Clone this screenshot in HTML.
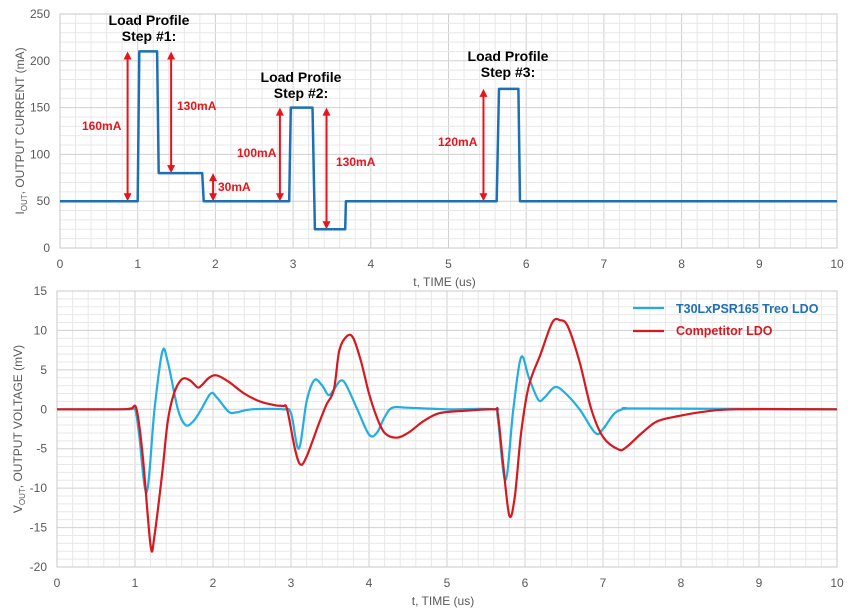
<!DOCTYPE html>
<html><head><meta charset="utf-8"><style>
html,body{margin:0;padding:0;background:#fff;}
svg{display:block;font-family:"Liberation Sans",Arial,sans-serif;}
</style></head><body>
<svg id="c" width="850" height="615" viewBox="0 0 850 615"></svg>
<script>
// ---- data ----
const currentTimes = [0, 1.0, 1.02, 1.25, 1.27, 1.83, 1.85, 2.95, 2.97, 3.25, 3.28, 3.67, 3.68, 5.62, 5.65, 5.9, 5.92, 10];
const currentValues = [50, 50, 210, 210, 80, 80, 50, 50, 150, 150, 20, 20, 50, 50, 170, 170, 50, 50];
const treoTimes = [0,0.9,1.0,1.05,1.15,1.25,1.35,1.42,1.55,1.65,1.75,1.85,1.97,2.05,2.2,2.3,2.5,2.9,3.0,3.1,3.2,3.3,3.4,3.48,3.55,3.63,3.7,3.85,4.0,4.1,4.2,4.3,4.5,5,5.6,5.65,5.75,5.85,5.95,6.05,6.17,6.25,6.38,6.5,6.7,6.9,7.0,7.15,7.3,7.5,10];
const treoValues = [0,0,0,-3,-10.5,0,7.3,6,0,-2,-1.5,0,2,1.5,-0.3,-0.4,0,0,-0.5,-5,1,3.7,3,1.8,2.5,3.6,3.2,0,-3.2,-3,-1,0.2,0.2,0,0,-1,-9,0,6.6,4,1.2,1.5,2.8,2.2,0,-3,-2.5,-0.5,0.1,0.1,0];
const compTimes = [0,0.8,0.95,1.02,1.1,1.2,1.25,1.35,1.42,1.5,1.6,1.7,1.8,1.85,1.95,2.05,2.2,2.4,2.6,2.8,2.9,2.95,3.05,3.12,3.2,3.35,3.45,3.55,3.62,3.72,3.8,3.9,4.0,4.1,4.2,4.35,4.5,4.7,4.9,5.2,5.6,5.65,5.72,5.8,5.87,5.95,6.05,6.2,6.35,6.45,6.55,6.7,6.85,7.0,7.2,7.3,7.5,7.7,8,8.3,8.7,10];
const compValues = [0,0,0.1,0,-6,-17.3,-16,-8,-1.5,2,3.8,3.7,2.8,3,4,4.3,3.5,2,1,0.5,0.4,0,-5,-7,-6,-2,0.5,2.5,7.5,9.3,9,6,2,-1,-3,-3.6,-3,-1.5,-0.5,-0.2,0,-0.5,-7,-13.5,-11,-3,3,7,11,11.3,10.5,6,0,-3.5,-5.1,-4.8,-3,-1.5,-0.8,-0.3,0,0];
const xTicks = [0,1,2,3,4,5,6,7,8,9,10];
const topYTicks = [0,50,100,150,200,250];
const botYTicks = [-20,-15,-10,-5,0,5,10,15];

const svg = document.getElementById('c');
const NS = 'http://www.w3.org/2000/svg';
function mk(tag, attrs, parent){const e=document.createElementNS(NS,tag);for(const k in attrs)e.setAttribute(k,attrs[k]);(parent||svg).appendChild(e);return e;}

const topP = {x0:60,x1:837,y0:248,y1:14,vmin:0,vmax:250};
const botP = {x0:57,x1:837,y0:567,y1:291,vmin:-20,vmax:15};
function X(p,t){return p.x0+(p.x1-p.x0)*t/10;}
function Y(p,v){return p.y0-(p.y0-p.y1)*(v-p.vmin)/(p.vmax-p.vmin);}

function grid(p, minorStep, majorStep, name){
  const g = mk('g',{});
  
  
  for(let t=0;t<=10.001;t+=0.2){const major=Math.abs(t-Math.round(t))<1e-6;
    mk('line',{x1:X(p,t),x2:X(p,t),y1:p.y1,y2:p.y0,stroke:major?'#d0d0d0':'#e8e8e8','stroke-width':1},g);}
  for(let v=p.vmin;v<=p.vmax+1e-6;v+=minorStep){const major=Math.abs(v/majorStep-Math.round(v/majorStep))<1e-6;
    mk('line',{x1:p.x0,x2:p.x1,y1:Y(p,v),y2:Y(p,v),stroke:major?'#d0d0d0':'#e8e8e8','stroke-width':1},g);}
  mk('rect',{x:p.x0,y:p.y1,width:p.x1-p.x0,height:p.y0-p.y1,fill:'none',stroke:'#c8c8c8'},g);
}
function axes(p, yTicks, name, ylab, ysub, ylabRest, ylabX){
  xTicks.forEach(t=>{const e=mk('text',{x:X(p,t),y:p.y0+20,'text-anchor':'middle','font-size':12,fill:'#595959'});e.textContent=t;
    });
  yTicks.forEach(v=>{const e=mk('text',{x:p.x0-10,y:Y(p,v)+4,'text-anchor':'end','font-size':12,fill:'#595959'});e.textContent=v;
    });
  const xt=mk('text',{x:(p.x0+p.x1)/2-4,y:p.y0+38,'text-anchor':'middle','font-size':12,fill:'#595959'});xt.textContent='t, TIME (us)';
  
  const cy=(p.y0+p.y1)/2;
  const yt=mk('text',{x:0,y:0,'text-anchor':'middle','font-size':12,fill:'#595959',transform:`translate(${ylabX},${cy}) rotate(-90)`});
  
  const a=mk('tspan',{},yt);a.textContent=ylab;
  const b=mk('tspan',{'font-size':8,dy:3},yt);b.textContent=ysub;
  const c=mk('tspan',{dy:-3},yt);c.textContent=ylabRest;
}
function series(p, ts, vs, color, name, w, smooth){
  const pts=ts.map((t,i)=>[X(p,t),Y(p,vs[i])]);
  let d='M'+pts[0][0].toFixed(1)+','+pts[0][1].toFixed(1);
  for(let i=1;i<pts.length;i++){
    if(!smooth){d+=' L'+pts[i][0].toFixed(1)+','+pts[i][1].toFixed(1);continue;}
    const p0=pts[Math.max(0,i-2)],p1=pts[i-1],p2=pts[i],p3=pts[Math.min(pts.length-1,i+1)];
    const c1x=p1[0]+(p2[0]-p0[0])/6,c1y=p1[1]+(p2[1]-p0[1])/6;
    const c2x=p2[0]-(p3[0]-p1[0])/6,c2y=p2[1]-(p3[1]-p1[1])/6;
    d+=` C${c1x.toFixed(1)},${c1y.toFixed(1)} ${c2x.toFixed(1)},${c2y.toFixed(1)} ${p2[0].toFixed(1)},${p2[1].toFixed(1)}`;
  }
  const e=mk('path',{d:d,fill:'none',stroke:color,'stroke-width':w,'stroke-linejoin':'round'});
  
}

grid(topP,10,50,'top');
grid(botP,1,5,'bottom');
axes(topP, topYTicks,'top','I','OUT',', OUTPUT CURRENT (mA)',24);
axes(botP, botYTicks,'bottom','V','OUT',', OUTPUT VOLTAGE (mV)',22);

const red='#e8141c';
function arrow(t, v1, v2, name){
  const x=X(topP,t), ya=Y(topP,v1), yb=Y(topP,v2);
  const g=mk('g',{});
  mk('line',{x1:x,x2:x,y1:ya+6,y2:yb-6,stroke:red,'stroke-width':2},g);
  mk('path',{d:`M${x-4},${ya+8} L${x},${ya} L${x+4},${ya+8}Z`,fill:red},g);
  mk('path',{d:`M${x-4},${yb-8} L${x},${yb} L${x+4},${yb-8}Z`,fill:red},g);
}
arrow(0.87,210,50,'arrow-160ma');
arrow(1.43,210,80,'arrow-130ma-a');
arrow(1.97,80,50,'arrow-30ma');
arrow(2.83,150,50,'arrow-100ma');
arrow(3.43,150,20,'arrow-130ma-b');
arrow(5.45,170,50,'arrow-120ma');
function lbl(x,y,txt,col,size,name,anchor){const e=mk('text',{x:x,y:y,'font-size':size,'font-weight':'bold',fill:col,'text-anchor':anchor||'start'});e.textContent=txt;
  return e;}
lbl(82,130,'160mA',red,12,'label-160ma');
lbl(177,110,'130mA',red,12,'label-130ma-a');
lbl(218,191,'30mA',red,12,'label-30ma');
lbl(237,157,'100mA',red,12,'label-100ma');
lbl(336,166,'130mA',red,12,'label-130ma-b');
lbl(438,146,'120mA',red,12,'label-120ma');
lbl(149,25,'Load Profile','#000',14,'step1-title','middle');
lbl(149,41,'Step #1:','#000',14,'step1-subtitle','middle');
lbl(301,82,'Load Profile','#000',14,'step2-title','middle');
lbl(301,98,'Step #2:','#000',14,'step2-subtitle','middle');
lbl(508,61,'Load Profile','#000',14,'step3-title','middle');
lbl(508,77,'Step #3:','#000',14,'step3-subtitle','middle');

series(topP, currentTimes, currentValues, '#1f6fb5','current-profile-line',2.5,false);
series(botP, treoTimes, treoValues, '#22aee0','treo-ldo-line',2.2,true);
series(botP, compTimes, compValues, '#d7181f','competitor-ldo-line',2.2,true);

const lg=mk('g',{});
mk('line',{x1:633,x2:664,y1:308,y2:308,stroke:'#22aee0','stroke-width':2.2},lg);
mk('line',{x1:633,x2:664,y1:331,y2:331,stroke:'#d7181f','stroke-width':2.2},lg);
const l1=mk('text',{x:676,y:313,'font-size':12.5,'font-weight':'bold',fill:'#1f6fb5'},lg);l1.textContent='T30LxPSR165 Treo LDO';

const l2=mk('text',{x:676,y:335,'font-size':12.5,'font-weight':'bold',fill:'#d7181f'},lg);l2.textContent='Competitor LDO';

</script>
</body></html>
